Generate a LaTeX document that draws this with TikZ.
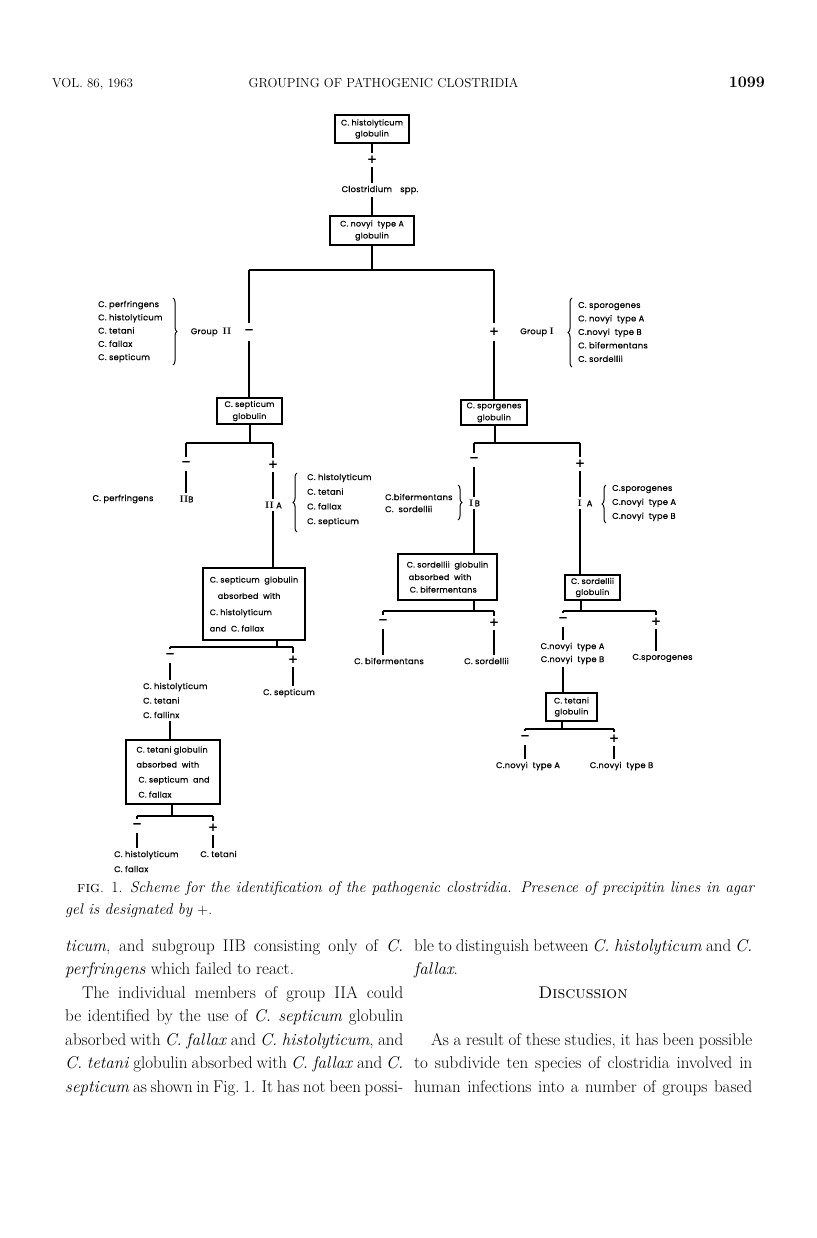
\documentclass[tikz,border=0pt]{standalone}
\usepackage{fontspec}
\newfontfamily\dfont{Poppins}[FakeBold=0.6,LetterSpace=3]
\usetikzlibrary{decorations.pathreplacing}
\newlength\colw \setlength\colw{338pt}
\newcommand\jl[1]{\hbox to \colw{#1}}
\newcommand\rn[1]{{\rmfamily\bfseries\fontsize{9.5}{9.5}\selectfont #1}}
\begin{document}
\begin{tikzpicture}[x=1pt,y=-1pt,
  every node/.style={inner sep=0pt},
  conn/.style={line width=1.2pt},
  gbox/.style={draw,line width=1.4pt,inner sep=0pt,align=center,font=\dfont\fontsize{8}{#1}\selectfont},
  gbox/.default=11.5pt,
  lab/.style={inner sep=3pt,font=\dfont\fontsize{8.3}{9}\selectfont},
  lst/.style={inner sep=3pt,align=left,font=\dfont\fontsize{8.3}{#1}\selectfont},
  sgn/.style={inner sep=0pt,minimum width=8pt,minimum height=#1,font=\dfont\fontsize{14}{14}\selectfont},
  sgn/.default=14pt,
  brc/.style={decorate,decoration={brace,amplitude=4pt},line width=1pt},
  txt/.style={anchor=base west,inner sep=0pt,font=\fontsize{17}{23.5}\selectfont},
]
\fill[white] (0,0) rectangle (816,1238);
\useasboundingbox (0,0) rectangle (816,1238);

% header
\node[anchor=base west,font=\fontsize{13}{13}\selectfont] (hvol) at (52,88) {VOL. 86, 1963};
\node[anchor=base,font=\fontsize{13}{13}\selectfont] (htitle) at (383.5,88) {GROUPING OF PATHOGENIC CLOSTRIDIA};
\node[anchor=base east,font=\bfseries\fontsize{16}{16}\selectfont] (hpage) at (765,88) {1099};

% top
\node[gbox=11pt,minimum width=74pt,minimum height=28pt] (b1) at (372,129) {C. histolyticum\\globulin};
\node[sgn] (s1) at (372,160) {+};
\node[lab] (t1) at (380,190) {Clostridium\quad spp.};
\node[gbox=12pt,minimum width=84pt,minimum height=29pt] (b2) at (372,230.5) {C. novyi\ \ type A\\globulin};
\draw[conn] (b1) -- (s1);
\draw[conn] (s1) -- (s1 |- t1.north);
\draw[conn] (s1 |- t1.south) -- (s1 |- b2.north);

\coordinate (h2) at (372,270);
\coordinate (hL) at (249,270);
\coordinate (hR) at (494,270);
\draw[conn] (b2.south) -- (h2);
\draw[conn] (hL) -- (hR);
\node[sgn=18pt] (sL) at (249,332) {–};
\node[sgn=18pt] (sR) at (494,332) {+};
\draw[conn] (hL) -- (sL);
\draw[conn] (hR) -- (sR);
\node[gbox=12pt,minimum width=65pt,minimum height=26pt] (b3) at (249.5,411) {C. septicum\\globulin};
\node[gbox=12pt,minimum width=66pt,minimum height=25pt] (b4) at (494,412.5) {C. sporgenes\\globulin};
\draw[conn] (sL) -- (sL |- b3.north);
\draw[conn] (sR) -- (sR |- b4.north);

% group II
\node[lab] (g2) at (211,332) {Group\ \ \rn{II}};
\node[lst=13.25pt,anchor=west] (l2) at (95,331.5) {C. perfringens\\C. histolyticum\\C. tetani\\C. fallax\\C. septicum};
\draw[brc] (173,298) -- (173,365);
% group I
\node[lab] (g1) at (537,332) {Group \rn{I}};
\draw[brc] (572,367) -- (572,298);
\node[lst=13.5pt,anchor=west] (l1) at (575,332) {C. sporogenes\\C. novyi\ \ type A\\C.novyi\ \ type B\\C. bifermentans\\C. sordellii};

% septicum subtree
\coordinate (c3) at (250,443);
\coordinate (c3L) at (186,443);
\coordinate (c3R) at (273,443);
\draw[conn] (b3.south -| c3) -- (c3);
\draw[conn] (c3L) -- (c3R);
\node[sgn] (s3L) at (186,464) {–};
\node[lab] (IIB) at (186.5,499) {\rn{II}B};
\draw[conn] (c3L) -- (s3L);
\draw[conn] (s3L) -- (s3L |- IIB.north);
\node[lab] (perf) at (123,499) {C. perfringens};
\node[sgn] (s3R) at (273,465) {+};
\node[lab] (IIA) at (273.5,505) {\rn{II}\ A};
\draw[conn] (c3R) -- (s3R);
\draw[conn] (s3R) -- (s3R |- IIA.north);
\draw[brc] (297,532) -- (297,473);
\node[lst=14.7pt,anchor=west] (l3) at (304,500) {C. histolyticum\\C. tetani\\C. fallax\\C. septicum};
\node[gbox=16.3pt,align=left,minimum width=102pt,minimum height=72pt] (b5) at (254,604) {C. septicum\ \ globulin\\\hspace{8pt}absorbed\ \ with\\C. histolyticum\\and\ \ C. fallax};
\draw[conn] (s3R |- IIA.south) -- (s3R |- b5.north);

\coordinate (c5) at (277,647);
\coordinate (c5L) at (170,647);
\coordinate (c5R) at (293,647);
\draw[conn] (c5 |- b5.south) -- (c5);
\draw[conn] (c5L) -- (c5R);
\node[sgn] (s5L) at (170,656) {–};
\node[lst=14.5pt,anchor=west] (l5) at (140,700.5) {C. histolyticum\\C. tetani\\C. fallinx};
\draw[conn] (c5L) -- (s5L);
\draw[conn] (s5L) -- (s5L |- l5.north);
\node[sgn] (s5R) at (293,660) {+};
\node[lab] (sep5) at (289,693) {C. septicum};
\draw[conn] (c5R) -- (s5R);
\draw[conn] (s5R) -- (s5R |- sep5.north);
\node[gbox=15pt,align=left,minimum width=94pt,minimum height=64pt] (b6) at (173,772) {C. tetani\ globulin\\absorbed\ \ with\\\hspace{2pt}C. septicum\ \ and\\\hspace{2pt}C. fallax};
\draw[conn] (s5L |- l5.south) -- (s5L |- b6.north);

\coordinate (c6) at (172,816);
\coordinate (c6L) at (137,816);
\coordinate (c6R) at (213,816);
\draw[conn] (c6 |- b6.south) -- (c6);
\draw[conn] (c6L) -- (c6R);
\node[sgn] (s6L) at (137,826) {–};
\node[sgn] (s6R) at (213,828) {+};
\node[lst=15pt,anchor=west] (l6) at (111,861.5) {C. histolyticum\\C. fallax};
\node[lab] (tet6) at (218.5,854) {C. tetani};
\draw[conn] (c6L) -- (s6L);
\draw[conn] (c6R) -- (s6R);
\draw[conn] (s6L) -- (s6L |- l6.north);
\draw[conn] (s6R) -- (s6R |- tet6.north);

% sporogenes subtree
\coordinate (c4) at (495,443);
\coordinate (c4L) at (474,443);
\coordinate (c4R) at (580,443);
\draw[conn] (b4.south -| c4) -- (c4);
\draw[conn] (c4L) -- (c4R);
\node[sgn] (s4L) at (474,460) {–};
\node[lab] (IB) at (474.5,503) {\rn{I}\,B};
\draw[conn] (c4L) -- (s4L);
\draw[conn] (s4L) -- (s4L |- IB.north);
\draw[brc] (458,485) -- (458,520);
\node[lst=12pt,anchor=west] (l4L) at (382,503) {C.bifermentans\\C.\ \ sordellii};
\node[gbox=12.5pt,align=left,minimum width=99pt,minimum height=46pt] (b7) at (447.5,577) {C. sordellii\ \ globulin\\\hspace{2pt}absorbed\ \ with\\\hspace{3pt}C. bifermentans};
\draw[conn] (s4L |- IB.south) -- (s4L |- b7.north);

\coordinate (c7) at (474,611);
\coordinate (c7L) at (383,611);
\coordinate (c7R) at (494,611);
\draw[conn] (c7 |- b7.south) -- (c7);
\draw[conn] (c7L) -- (c7R);
\node[sgn] (s7L) at (383,622) {–};
\node[sgn] (s7R) at (494,623) {+};
\node[lab] (bif7) at (389,661) {C. bifermentans};
\node[lab] (sor7) at (486.5,661) {C. sordellii};
\draw[conn] (c7L) -- (s7L);
\draw[conn] (c7R) -- (s7R);
\draw[conn] (s7L) -- (s7L |- bif7.north);
\draw[conn] (s7R) -- (s7R |- sor7.north);

\node[sgn] (s4R) at (580,464) {+};
\node[lab] (IA) at (585,503) {\rn{I}\ \ A};
\draw[conn] (c4R) -- (s4R);
\draw[conn] (s4R) -- (s4R |- IA.north);
\draw[brc] (606,523) -- (606,485);
\node[lst=14pt,anchor=west] (l4R) at (609,503) {C.sporogenes\\C.novyi\ \ type A\\C.novyi\ \ type B};
\node[gbox=11pt,minimum width=55pt,minimum height=25pt] (b8) at (592.5,587.5) {C. sordellii\\globulin};
\draw[conn] (s4R |- IA.south) -- (s4R |- b8.north);

\coordinate (c8) at (581,611);
\coordinate (c8L) at (563,611);
\coordinate (c8R) at (656,611);
\draw[conn] (c8 |- b8.south) -- (c8);
\draw[conn] (c8L) -- (c8R);
\node[sgn] (s8L) at (563,620) {–};
\node[sgn] (s8R) at (656,622) {+};
\node[lst=13pt,align=center] (l8) at (572.5,653.5) {C.novyi\ \ type A\\C.novyi\ \ type B};
\node[lab] (spo8) at (662.5,658) {C.sporogenes};
\draw[conn] (c8L) -- (s8L);
\draw[conn] (c8R) -- (s8R);
\draw[conn] (s8L) -- (s8L |- l8.north);
\draw[conn] (s8R) -- (s8R |- spo8.north);
\node[gbox=11pt,minimum width=51pt,minimum height=28pt] (b9) at (571.5,707) {C. tetani\\globulin};
\draw[conn] (s8L |- l8.south) -- (s8L |- b9.north);

\coordinate (c9) at (562,729);
\coordinate (c9L) at (525,729);
\coordinate (c9R) at (614,729);
\draw[conn] (c9 |- b9.south) -- (c9);
\draw[conn] (c9L) -- (c9R);
\node[sgn] (s9L) at (525,738) {–};
\node[sgn] (s9R) at (614,739) {+};
\node[lab] (na9) at (528,766) {C.novyi\ \ type A};
\node[lab] (nb9) at (621.5,766) {C.novyi\ \ type B};
\draw[conn] (c9L) -- (s9L);
\draw[conn] (c9R) -- (s9R);
\draw[conn] (s9L) -- (s9L |- na9.north);
\draw[conn] (s9R) -- (s9R |- nb9.north);

% caption
\node[anchor=base west,font=\fontsize{15.5}{22}\selectfont] (cap1) at (77,892) {\hbox to 678pt{\textsc{fig}. 1. \textit{Scheme for the identification of the pathogenic clostridia. Presence of precipitin lines in agar}}};
\node[anchor=base west,font=\fontsize{15.5}{22}\selectfont] (cap2) at (65,914) {\textit{gel is designated by} $+$.};

% body text left
\node[txt] (L1) at (65,951) {\jl{\textit{ticum}, and subgroup IIB consisting only of \textit{C.}}};
\node[txt] (L2) at (65,974.5) {\textit{perfringens} which failed to react.};
\node[txt] (L3) at (82,998) {\hbox to \dimexpr\colw-17pt\relax{The individual members of group IIA could}};
\node[txt] (L4) at (65,1021.5) {\jl{be identified by the use of \textit{C. septicum} globulin}};
\node[txt] (L5) at (65,1045) {\jl{absorbed with \textit{C. fallax} and \textit{C. histolyticum}, and}};
\node[txt] (L6) at (65,1068.5) {\jl{\textit{C. tetani} globulin absorbed with \textit{C. fallax} and \textit{C.}}};
\node[txt] (L7) at (65,1092) {\jl{\textit{septicum} as shown in Fig.~1. It has not been possi-}};
% body text right
\node[txt] (R1) at (414,951) {\jl{ble to distinguish between \textit{C. histolyticum} and \textit{C.}}};
\node[txt] (R2) at (414,974.5) {\textit{fallax}.};
\node[anchor=base,inner sep=0pt,font=\fontsize{17}{23.5}\selectfont] (R3) at (583,998) {\textsc{Discussion}};
\node[txt] (R4) at (431,1045) {\hbox to \dimexpr\colw-17pt\relax{As a result of these studies, it has been possible}};
\node[txt] (R5) at (414,1068.5) {\jl{to subdivide ten species of clostridia involved in}};
\node[txt] (R6) at (414,1092) {\jl{human infections into a number of groups based}};
\end{tikzpicture}
\end{document}
